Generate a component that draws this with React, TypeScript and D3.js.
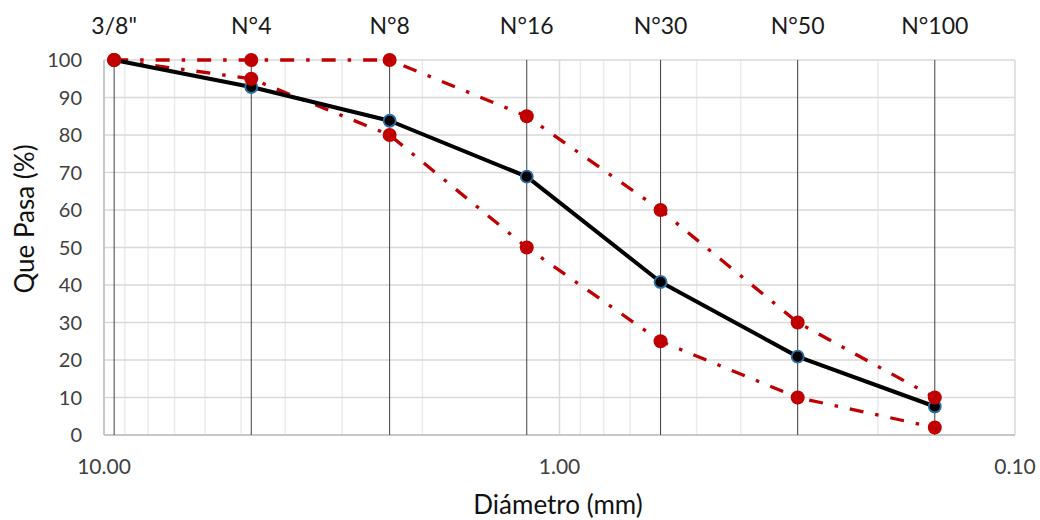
import React from "react";
import * as d3 from "d3";

const sieveNames = ["3/8\"", "N°4", "N°8", "N°16", "N°30", "N°50", "N°100"];
const sieveSizes = [9.5, 4.75, 2.36, 1.18, 0.6, 0.3, 0.15];
const sample = [100, 92.8, 83.8, 68.9, 40.8, 20.9, 7.6];
const upperLimit = [100, 100, 100, 85, 60, 30, 10];
const lowerLimit = [100, 95, 80, 50, 25, 10, 2];
const yTicks = [0, 10, 20, 30, 40, 50, 60, 70, 80, 90, 100];
const xMajorTicks = [10, 1, 0.1];

const W = 1040, H = 520;
const left = 104, right = 1015, top = 60, bottom = 435;
const FONT = "Lato, 'Open Sans', sans-serif";

export default function App() {
  const x = d3.scaleLog().domain([10, 0.1]).range([left, right]);
  const y = d3.scaleLinear().domain([0, 100]).range([bottom, top]);

  const minor: number[] = [];
  [1, 0.1].forEach((dec) => {
    for (let i = 2; i <= 9; i++) minor.push(i * dec);
  });

  const line = d3
    .line<number>()
    .x((_, i) => x(sieveSizes[i]))
    .y((d) => y(d))
    .curve(d3.curveLinear);

  const fmt = d3.format(".2f");

  return (
    <svg width={W} height={H} style={{ display: "block", position: "absolute", left: 0, top: 0 }}>
      <rect width={W} height={H} fill="#fff" />
      {/* minor vertical grid */}
      {minor.map((v) => (
        <line key={"m" + v} x1={x(v)} x2={x(v)} y1={top} y2={bottom} stroke="#ebebeb" strokeWidth={1.5} />
      ))}
      {xMajorTicks.map((v) => (
        <line key={"M" + v} x1={x(v)} x2={x(v)} y1={top} y2={bottom} stroke="#d9d9d9" strokeWidth={1.5} />
      ))}
      {/* horizontal grid */}
      {yTicks.map((t) => (
        <line key={"h" + t} x1={left} x2={right} y1={y(t)} y2={y(t)} stroke="#d9d9d9" strokeWidth={1.5} />
      ))}
      {/* axes */}
      <line x1={left} x2={left} y1={top} y2={bottom} stroke="#bfbfbf" strokeWidth={1.5} />
      <line x1={left} x2={right} y1={bottom} y2={bottom} stroke="#bfbfbf" strokeWidth={1.5} />
      {/* sieve verticals */}
      {sieveSizes.map((s, i) => (
        <line key={"s" + i} x1={x(s)} x2={x(s)} y1={top} y2={bottom} stroke="#404040" strokeWidth={1} />
      ))}
      {/* sieve labels */}
      {sieveNames.map((n, i) => (
        <text key={"n" + i} x={x(sieveSizes[i])} y={34} textAnchor="middle" fontFamily={FONT} fontSize={23} fill="#1a1a1a">
          {n}
        </text>
      ))}
      {/* y tick labels */}
      {yTicks.map((t) => (
        <text key={"yt" + t} x={82} y={y(t)} dy="0.35em" textAnchor="end" fontFamily={FONT} fontSize={20} fill="#404040">
          {t}
        </text>
      ))}
      {/* x tick labels */}
      {xMajorTicks.map((v) => (
        <text key={"xt" + v} x={x(v)} y={474} textAnchor="middle" fontFamily={FONT} fontSize={21} fill="#404040">
          {fmt(v)}
        </text>
      ))}
      <text x={558} y={514} textAnchor="middle" fontFamily={FONT} fontSize={26} fill="#111">
        Diámetro (mm)
      </text>
      <text transform={`translate(34,219) rotate(-90)`} textAnchor="middle" fontFamily={FONT} fontSize={26} fill="#111">
        Que Pasa (%)
      </text>
      {/* limits */}
      {[upperLimit, lowerLimit].map((arr, k) => (
        <path key={"lim" + k} d={line(arr) || ""} fill="none" stroke="#c00000" strokeWidth={3.3} strokeDasharray="14,12,3.5,12" />
      ))}
      {/* sample */}
      <path d={line(sample) || ""} fill="none" stroke="#000" strokeWidth={4} strokeLinejoin="round" />
      {sample.map((v, i) => (
        <circle key={"c" + i} cx={x(sieveSizes[i])} cy={y(v)} r={6} fill="#000" stroke="#2e6ea6" strokeWidth={1.8} />
      ))}
      {[upperLimit, lowerLimit].map((arr, k) =>
        arr.map((v, i) => (
          <circle key={"r" + k + i} cx={x(sieveSizes[i])} cy={y(v)} r={7} fill="#c00000" />
        ))
      )}
    </svg>
  );
}
